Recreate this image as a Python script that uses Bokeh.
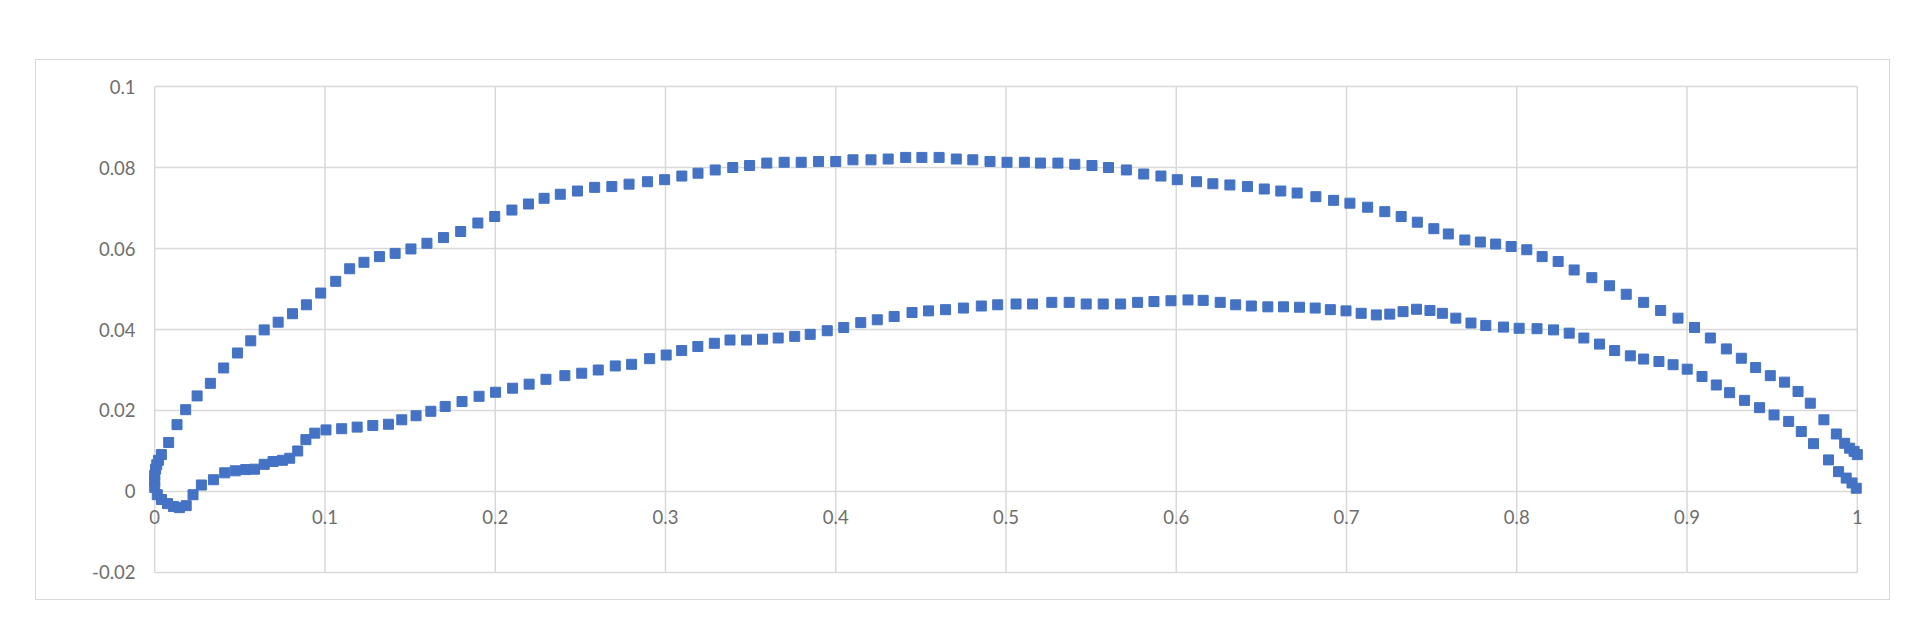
from bokeh.plotting import figure
from bokeh.models import Range1d, FixedTicker, CustomJSTickFormatter, ColumnDataSource
from bokeh.embed import file_html
from bokeh.resources import INLINE

# ---- data ----
upper_x = [0.0000, 0.0000, 0.0005, 0.0012, 0.0022, 0.0039, 0.0082, 0.0131, 0.0182, 0.0249, 0.0327, 0.0405,
           0.0486, 0.0564, 0.0643, 0.0725, 0.0809, 0.0891, 0.0975, 0.1063, 0.1145, 0.1229, 0.1320, 0.1412,
           0.1505, 0.1599, 0.1696, 0.1797, 0.1898, 0.1997, 0.2098, 0.2195, 0.2287, 0.2382, 0.2483, 0.2584,
           0.2685, 0.2786, 0.2894, 0.2995, 0.3096, 0.3191, 0.3292, 0.3395, 0.3494, 0.3595, 0.3697, 0.3797,
           0.3899, 0.4000, 0.4101, 0.4207, 0.4308, 0.4411, 0.4506, 0.4607, 0.4708, 0.4805, 0.4906,
           0.5006, 0.5108, 0.5202, 0.5305, 0.5404, 0.5505, 0.5602, 0.5707, 0.5809, 0.5910, 0.6006, 0.6119,
           0.6215, 0.6315, 0.6418, 0.6517, 0.6614, 0.6710, 0.6820, 0.6924, 0.7020, 0.7124, 0.7225, 0.7321,
           0.7416, 0.7513, 0.7598, 0.7695, 0.7786, 0.7876, 0.7967, 0.8059, 0.8149, 0.8243, 0.8337, 0.8441,
           0.8545, 0.8643, 0.8745, 0.8845, 0.8947, 0.9044, 0.9137, 0.9231, 0.9319, 0.9403, 0.9489, 0.9573,
           0.9652, 0.9724, 0.9804, 0.9877, 0.9926, 0.9955, 0.9981, 1.0000]
upper_y = [0.0025, 0.0040, 0.0055, 0.0066, 0.0077, 0.0091, 0.0121, 0.0165, 0.0202, 0.0236, 0.0267, 0.0305,
           0.0342, 0.0372, 0.0399, 0.0418, 0.0439, 0.0461, 0.0490, 0.0519, 0.0550, 0.0566, 0.0580, 0.0588,
           0.0599, 0.0613, 0.0627, 0.0642, 0.0663, 0.0679, 0.0695, 0.0710, 0.0724, 0.0734, 0.0742, 0.0751,
           0.0753, 0.0759, 0.0765, 0.0770, 0.0779, 0.0786, 0.0794, 0.0800, 0.0805, 0.0811, 0.0813, 0.0813,
           0.0815, 0.0815, 0.0819, 0.0819, 0.0821, 0.0825, 0.0825, 0.0825, 0.0821, 0.0819, 0.0815,
           0.0813, 0.0813, 0.0811, 0.0811, 0.0808, 0.0805, 0.0800, 0.0794, 0.0784, 0.0779, 0.0770, 0.0765,
           0.0760, 0.0757, 0.0753, 0.0747, 0.0742, 0.0737, 0.0728, 0.0719, 0.0712, 0.0702, 0.0691, 0.0679,
           0.0665, 0.0649, 0.0636, 0.0621, 0.0616, 0.0611, 0.0605, 0.0597, 0.0580, 0.0568, 0.0547, 0.0528,
           0.0508, 0.0487, 0.0467, 0.0447, 0.0428, 0.0405, 0.0379, 0.0352, 0.0329, 0.0306, 0.0286, 0.0270,
           0.0247, 0.0218, 0.0177, 0.0142, 0.0119, 0.0107, 0.0099, 0.0091]

lower_x = [0.0000, 0.0015, 0.0040, 0.0075, 0.0110, 0.0145, 0.0185, 0.0225, 0.0274, 0.0345, 0.0411, 0.0473,
           0.0534, 0.0586, 0.0643, 0.0695, 0.0750, 0.0793, 0.0840,
           0.0888, 0.0940, 0.1006, 0.1098, 0.1189, 0.1281, 0.1373, 0.1451, 0.1535, 0.1622, 0.1706, 0.1805,
           0.1905, 0.2002, 0.2102, 0.2199, 0.2298, 0.2409, 0.2508, 0.2605, 0.2705, 0.2801, 0.2907, 0.3004,
           0.3095, 0.3190, 0.3287, 0.3379, 0.3476, 0.3570, 0.3662, 0.3759, 0.3850, 0.3950, 0.4047, 0.4147,
           0.4244, 0.4343, 0.4448, 0.4545, 0.4645, 0.4750, 0.4855, 0.4951,
           0.5059, 0.5156, 0.5269, 0.5371, 0.5471, 0.5571, 0.5673, 0.5773, 0.5869, 0.5969, 0.6069, 0.6158,
           0.6258, 0.6349, 0.6441, 0.6538, 0.6630, 0.6724, 0.6816, 0.6905, 0.6997, 0.7086, 0.7175, 0.7254,
           0.7332, 0.7411, 0.7490, 0.7563, 0.7642, 0.7731, 0.7818, 0.7922, 0.8014, 0.8119, 0.8216, 0.8308,
           0.8394, 0.8486,
           0.8575, 0.8667, 0.8745, 0.8835, 0.8918, 0.9001, 0.9088, 0.9172, 0.9250, 0.9338, 0.9426, 0.9511,
           0.9597, 0.9671, 0.9743, 0.9831, 0.9890, 0.9935, 0.9969, 0.9994]
lower_y = [0.0010, -0.0008, -0.0020, -0.0030, -0.0037, -0.0040, -0.0035, -0.0008, 0.0016, 0.0029, 0.0046, 0.0051,
           0.0054, 0.0055, 0.0067, 0.0074, 0.0077, 0.0082, 0.0100,
           0.0128, 0.0144, 0.0152, 0.0155, 0.0159, 0.0163, 0.0166, 0.0177, 0.0187, 0.0198, 0.0210, 0.0222,
           0.0235, 0.0245, 0.0255, 0.0265, 0.0277, 0.0286, 0.0292, 0.0300, 0.0310, 0.0314, 0.0328, 0.0337,
           0.0348, 0.0358, 0.0366, 0.0374, 0.0374, 0.0376, 0.0379, 0.0383, 0.0388, 0.0397, 0.0405, 0.0417,
           0.0424, 0.0432, 0.0442, 0.0446, 0.0449, 0.0453, 0.0458, 0.0461,
           0.0463, 0.0463, 0.0467, 0.0467, 0.0463, 0.0463, 0.0463, 0.0467, 0.0469, 0.0471, 0.0473, 0.0472,
           0.0467, 0.0461, 0.0458, 0.0456, 0.0456, 0.0455, 0.0453, 0.0449, 0.0446, 0.0440, 0.0436, 0.0438,
           0.0444, 0.0450, 0.0447, 0.0440, 0.0428, 0.0416, 0.0410, 0.0406, 0.0403, 0.0402, 0.0399, 0.0391,
           0.0379, 0.0364,
           0.0348, 0.0335, 0.0327, 0.0321, 0.0313, 0.0302, 0.0284, 0.0263, 0.0244, 0.0225, 0.0207, 0.0189,
           0.0173, 0.0148, 0.0118, 0.0078, 0.0049, 0.0033, 0.0021, 0.0008]

x_ticks = [0, 0.1, 0.2, 0.3, 0.4, 0.5, 0.6, 0.7, 0.8, 0.9, 1]
x_tick_labels = ["0", "0.1", "0.2", "0.3", "0.4", "0.5", "0.6", "0.7", "0.8", "0.9", "1"]
y_ticks = [-0.02, 0, 0.02, 0.04, 0.06, 0.08, 0.1]
y_tick_labels = ["-0.02", "0", "0.02", "0.04", "0.06", "0.08", "0.1"]

assert len(upper_x) == len(upper_y)
assert len(lower_x) == len(lower_y)

BLUE = "#4472C4"
GRID = "#d9d9d9"
LABEL = "#6e6e6e"
FONT = "Lato"

XPAD = 0.006
YPAD = 0.001
p = figure(width=1853, height=539, output_backend="svg", toolbar_location=None,
           x_range=Range1d(x_ticks[0] - XPAD, x_ticks[-1] + XPAD),
           y_range=Range1d(y_ticks[0] - YPAD, y_ticks[-1] + YPAD),
           min_border_left=108, min_border_right=22, min_border_top=22, min_border_bottom=23)
p.margin = (60, 0, 0, 36)
p.styles = {"outline": "1.5px solid #d9d9d9"}
p.background_fill_color = "white"
p.border_fill_color = "white"
p.outline_line_color = None
p.xgrid.visible = False
p.ygrid.visible = False

fmt_js = """
let best = 0;
for (let i = 0; i < tv.length; i++) {
  if (Math.abs(tv[i] - tick) < Math.abs(tv[best] - tick)) best = i;
}
return lb[best];
"""

p.xaxis.ticker = FixedTicker(ticks=x_ticks)
p.xaxis.formatter = CustomJSTickFormatter(args=dict(tv=x_ticks, lb=x_tick_labels), code=fmt_js)
p.yaxis.ticker = FixedTicker(ticks=y_ticks)
p.yaxis.formatter = CustomJSTickFormatter(args=dict(tv=y_ticks, lb=y_tick_labels), code=fmt_js)

p.xaxis.fixed_location = 0
for ax in (p.xaxis, p.yaxis):
    ax.axis_line_color = None
    ax.major_tick_line_color = None
    ax.minor_tick_line_color = None
    ax.major_tick_out = 0
    ax.major_tick_in = 0
    ax.minor_tick_out = 0
    ax.minor_tick_in = 0
    ax.major_label_text_font = FONT
    ax.major_label_text_font_size = "18.5px"
    ax.major_label_text_color = LABEL
p.xaxis.major_label_standoff = 19
p.yaxis.major_label_standoff = 9

# gridlines bounded to the plot area (0..1, -0.02..0.1)
nx, ny = len(x_ticks), len(y_ticks)
p.segment(x0=x_ticks, x1=x_ticks, y0=[y_ticks[0]] * nx, y1=[y_ticks[-1]] * nx,
          line_color=GRID, line_width=1.5)
p.segment(x0=[x_ticks[0]] * ny, x1=[x_ticks[-1]] * ny, y0=y_ticks, y1=y_ticks,
          line_color=GRID, line_width=1.5)

src_u = ColumnDataSource(dict(x=upper_x, y=upper_y))
src_l = ColumnDataSource(dict(x=lower_x, y=lower_y))
for src in (src_u, src_l):
    p.scatter("x", "y", source=src, marker="square", size=10,
              fill_color=BLUE, line_color=BLUE)

open("out.html", "w").write(file_html(p, INLINE))
